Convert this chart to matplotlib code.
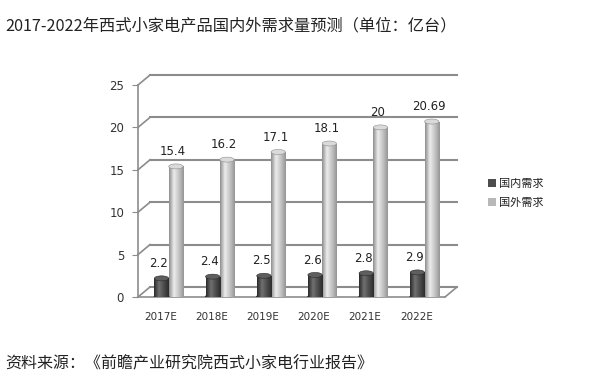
import numpy as np
import matplotlib
matplotlib.use("Agg")
import matplotlib.pyplot as plt
from matplotlib.colors import LinearSegmentedColormap
from matplotlib.lines import Line2D
from matplotlib.patches import Ellipse, Patch

plt.rcParams['font.family'] = ['DejaVu Sans', 'Noto Sans CJK SC']

# --- data ---
years = ['2017E', '2018E', '2019E', '2020E', '2021E', '2022E']
domestic = [2.2, 2.4, 2.5, 2.6, 2.8, 2.9]
foreign = [15.4, 16.2, 17.1, 18.1, 20, 20.69]
series_names = ['国内需求', '国外需求']
yticks = [0, 5, 10, 15, 20, 25]

title = '2017-2022年西式小家电产品国内外需求量预测（单位：亿台）'
source = '资料来源：《前瞻产业研究院西式小家电行业报告》'

W, H = 606, 386
fig = plt.figure(figsize=(W / 100, H / 100), dpi=100)
fig.patch.set_facecolor('white')

# front plane of the pseudo-3D box
ax = fig.add_axes([138 / W, 1 - 297 / H, 307 / W, 212 / H])
ax.set_xlim(-0.5, 5.5)
ax.set_ylim(0, 25)
for s in ax.spines.values():
    s.set_visible(False)
ax.patch.set_alpha(0)

DX, DY = 12, 10  # depth offset in pixels
grid_col = '#8c8c8c'


def fig_pt(x, y, depth=0.0):
    px, py = ax.transData.transform((x, y))
    px += DX * depth
    py += DY * depth
    return fig.transFigure.inverted().transform((px, py))


def fig_line(p0, p1, **kw):
    fig.add_artist(Line2D([p0[0], p1[0]], [p0[1], p1[1]],
                          transform=fig.transFigure, **kw))


# back wall gridlines and left wall slants
for v in yticks:
    fig_line(fig_pt(-0.5, v, 1), fig_pt(5.5, v, 1), color=grid_col, lw=1.5, zorder=0)
    fig_line(fig_pt(-0.5, v, 0), fig_pt(-0.5, v, 1), color=grid_col, lw=1.2, zorder=0)
# front left axis, front floor edge, right floor slant
fig_line(fig_pt(-0.5, 0), fig_pt(-0.5, 25), color=grid_col, lw=1.2, zorder=0)
fig_line(fig_pt(-0.5, 0), fig_pt(5.5, 0), color=grid_col, lw=1.2, zorder=0)
fig_line(fig_pt(5.5, 0), fig_pt(5.5, 0, 1), color=grid_col, lw=1.2, zorder=0)

# cylinders
x = np.arange(len(years))
bw = 0.28
cmaps = [
    LinearSegmentedColormap.from_list('dk', ['#2a2a2a', '#707070', '#4c4c4c', '#2c2c2c']),
    LinearSegmentedColormap.from_list('lt', ['#8e8e8e', '#ececec', '#c4c4c4', '#959595']),
]
cap_cols = ['#5e5e5e', '#dadada']
offsets = [-0.04, 0.24]
zs = [3, 2]
grad = np.linspace(0, 1, 64).reshape(1, -1)
cap_h = 5 / 8.48

for vals, off, cm, capc, z in zip([domestic, foreign], offsets, cmaps, cap_cols, zs):
    bars = ax.bar(x + off, vals, width=bw, color='none', edgecolor='none', zorder=z)
    for b, v in zip(bars, vals):
        x0 = b.get_x()
        im = ax.imshow(grad, cmap=cm, extent=(x0, x0 + bw, 0, v), aspect='auto', zorder=z)
        im.set_clip_path(b)
        ax.add_patch(Ellipse((x0 + bw / 2, 0), bw, cap_h, color=cm(0.95), zorder=z - 0.1))
        ax.add_patch(Ellipse((x0 + bw / 2, v), bw, cap_h, facecolor=capc,
                             edgecolor=cm(0.0), lw=0.4, zorder=z + 0.1))
        ax.annotate(f'{v:g}', (x0 + bw / 2, v), xytext=(-2, 6), textcoords='offset points',
                    ha='center', va='bottom', fontsize=8.5, color='#222222', zorder=5)

ax.set_xlim(-0.5, 5.5)
ax.set_ylim(0, 25)
ax.set_xticks(x - 0.06)
ax.set_xticklabels(years, fontsize=7.5, color='#333333')
ax.set_yticks(yticks)
ax.set_yticklabels([str(v) for v in yticks], fontsize=8.5, color='#333333')
ax.tick_params(axis='x', length=0, pad=11)
ax.tick_params(axis='y', length=4, color=grid_col, pad=6)

handles = [Patch(facecolor='#4d4d4d'), Patch(facecolor='#b8b8b8')]
fig.legend(handles, series_names, loc='center left', bbox_to_anchor=(478 / W, 1 - 193 / H),
           frameon=False, handlelength=0.7, handleheight=0.7,
           handletextpad=0.3, labelspacing=0.8, labelcolor='#222222',
           prop={'family': ['Noto Sans CJK SC'], 'size': 8})

fig.text(5 / W, 1 - 26 / H, title, fontsize=11.7, color='#222222',
         family=['Noto Sans CJK SC'], va='center', ha='left')
fig.text(5 / W, 1 - 364 / H, source, fontsize=11.5, color='#222222',
         family=['Noto Sans CJK SC'], va='center', ha='left')

fig.savefig('out.png', dpi=100, facecolor='white')
